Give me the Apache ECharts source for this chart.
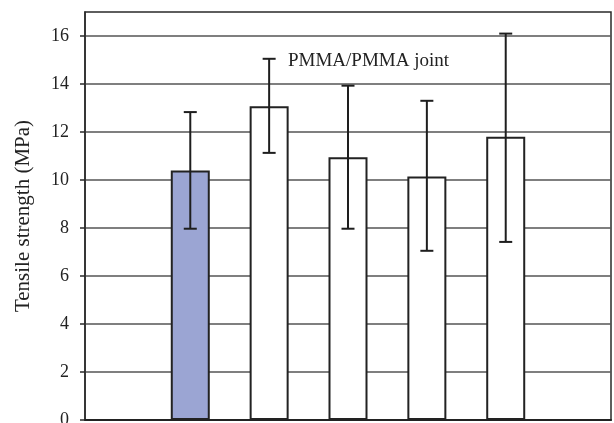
<!DOCTYPE html>
<html>
<head>
<meta charset="utf-8">
<script src="https://cdn.jsdelivr.net/npm/echarts@6/dist/echarts.min.js"></script>
<style>
html,body{margin:0;padding:0;background:#fff;}
#chart{width:614px;height:423px;}
</style>
</head>
<body>
<div id="chart"></div>
<script>
// Data
const samples = ['Sample 1', 'Sample 2', 'Sample 3', 'Sample 4', 'Sample 5'];
const strength = [10.4, 13.07, 10.95, 10.15, 11.8];
const errorHigh = [12.83, 15.05, 13.93, 13.3, 16.1];
const errorLow = [7.97, 11.13, 7.97, 7.05, 7.42];
const barColors = ['#9ba5d3', '#ffffff', '#ffffff', '#ffffff', '#ffffff'];
const yTicks = [0, 2, 4, 6, 8, 10, 12, 14, 16];
const annotation = 'PMMA/PMMA joint';
const yTitle = 'Tensile strength (MPa)';

const font = 'Liberation Serif';
const chart = echarts.init(document.getElementById('chart'), null, {renderer: 'canvas'});

const barData = strength.map((v, i) => ({
  value: [i + 1, v],
  itemStyle: {color: barColors[i]}
}));
const errData = samples.map((s, i) => [i + 1, errorHigh[i], errorLow[i]]);

chart.setOption({
  animation: false,
  backgroundColor: '#fff',
  grid: {
    left: 85, right: 3, top: 12, bottom: 3,
    outerBoundsMode: 'none',
    containLabel: false,
    show: true, borderColor: '#2a2a2a', borderWidth: 1.5, backgroundColor: 'transparent'
  },
  xAxis: {
    type: 'value',
    min: -0.335, max: 6.335,
    axisLine: {show: true, onZero: false, lineStyle: {color: '#222', width: 2}},
    axisTick: {show: false},
    axisLabel: {show: false},
    splitLine: {show: false}
  },
  yAxis: {
    type: 'value',
    min: 0, max: 17, interval: 2,
    name: yTitle,
    nameLocation: 'middle',
    nameRotate: 90,
    nameGap: 51,
    nameTextStyle: {fontFamily: font, fontSize: 21, color: '#222'},
    axisLine: {show: true, onZero: false, lineStyle: {color: '#2a2a2a', width: 1.5}},
    axisTick: {show: true, inside: false, length: 5, customValues: yTicks, lineStyle: {color: '#2a2a2a', width: 1.5}},
    axisLabel: {customValues: yTicks, fontFamily: font, fontSize: 18, color: '#222', margin: 16},
    splitLine: {show: true, lineStyle: {color: '#555', width: 1.5}}
  },
  series: [
    {
      type: 'bar',
      data: barData,
      barWidth: 39,
      itemStyle: {borderColor: '#222', borderWidth: 2},
      z: 2
    },
    {
      type: 'custom',
      data: errData,
      z: 3,
      renderItem: function (params, api) {
        const x = api.value(0);
        const top = api.coord([x, api.value(1)]);
        const bot = api.coord([x, api.value(2)]);
        const hw = 6.5;
        const st = {stroke: '#1e1e1e', lineWidth: 2};
        return {
          type: 'group',
          children: [
            {type: 'line', shape: {x1: top[0], y1: top[1], x2: bot[0], y2: bot[1]}, style: st},
            {type: 'line', shape: {x1: top[0] - hw, y1: top[1], x2: top[0] + hw, y2: top[1]}, style: st},
            {type: 'line', shape: {x1: bot[0] - hw, y1: bot[1], x2: bot[0] + hw, y2: bot[1]}, style: st}
          ]
        };
      }
    }
  ],
  graphic: [
    {
      type: 'text',
      left: 288,
      top: 52,
      style: {text: annotation, font: '19px "Liberation Serif"', fill: '#222'}
    }
  ]
});
</script>
</body>
</html>
